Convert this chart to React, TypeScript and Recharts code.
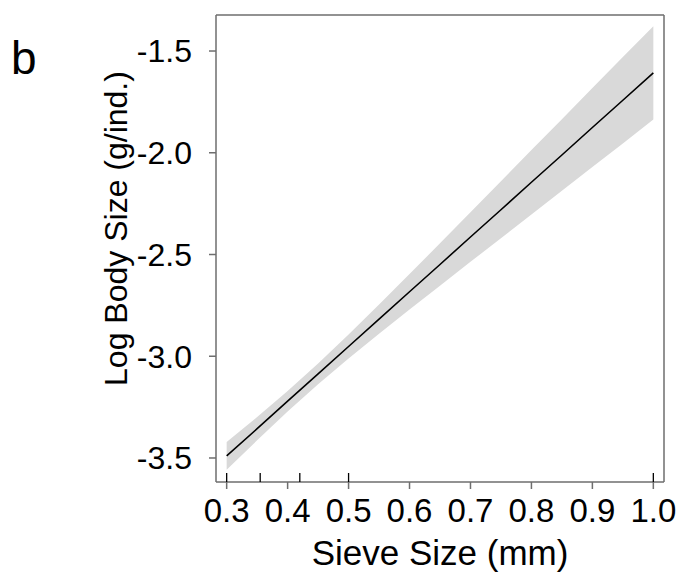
import React from 'react';
import { ComposedChart, Area, Line, Scatter, XAxis, YAxis } from 'recharts';

// fitted line with confidence band
const sieveSize = [0.3, 0.35, 0.4, 0.45, 0.5, 0.55, 0.6, 0.65, 0.7, 0.75, 0.8, 0.85, 0.9, 0.95, 1.0];
const fitted = [-3.49, -3.356, -3.221, -3.087, -2.952, -2.818, -2.683, -2.549, -2.414, -2.28, -2.145, -2.011, -1.876, -1.742, -1.607];
const lower = [-3.558, -3.413, -3.271, -3.138, -3.011, -2.89, -2.77, -2.653, -2.536, -2.42, -2.303, -2.187, -2.07, -1.954, -1.836];
const upper = [-3.422, -3.299, -3.171, -3.036, -2.893, -2.746, -2.596, -2.445, -2.292, -2.14, -1.987, -1.835, -1.682, -1.53, -1.378];

// rug of observed sieve sizes
const rugSizes = [0.3, 0.355, 0.42, 0.5, 1.0];

const xTicks = [0.3, 0.4, 0.5, 0.6, 0.7, 0.8, 0.9, 1.0];
const yTicks = [-3.5, -3.0, -2.5, -2.0, -1.5];
const xDomain = [0.2825, 1.0175];
const yDomain = [-3.618, -1.323];

const data = sieveSize.map((x, i) => ({ x, fit: fitted[i], band: [lower[i], upper[i]] }));
const rugData = rugSizes.map((x) => ({ x, y: yDomain[0] }));

const font = '"Liberation Sans", Arial, sans-serif';
const axisColor = '#6e6e6e';

const RugMark = (props: any) => {
  const { cx, cy } = props;
  return <line x1={cx} x2={cx} y1={cy} y2={cy - 9} stroke="#000" strokeWidth={1.3} />;
};

export default function App() {
  return (
    <div style={{ position: 'absolute', left: 0, top: 0, width: 681, height: 578, background: '#fff' }}>
      <div style={{ position: 'absolute', left: 11, top: 30, fontFamily: font, fontSize: 46, lineHeight: '56px', color: '#000' }}>b</div>
      <ComposedChart width={681} height={578} data={data} margin={{ top: 0, right: 0, bottom: 0, left: 0 }}>
        <XAxis
          xAxisId="bottom"
          dataKey="x"
          type="number"
          domain={xDomain}
          ticks={xTicks}
          tickFormatter={(v: number) => v.toFixed(1)}
          height={96}
          tickSize={7}
          tickMargin={10}
          stroke={axisColor}
          strokeWidth={1.5}
          tick={{ fill: '#000', fontSize: 33, fontFamily: font }}
          label={{
            content: (p: any) => (
              <text x={p.viewBox.x + p.viewBox.width / 2} y={565} textAnchor="middle" fontSize={35} fontFamily={font} fill="#000">
                Sieve Size (mm)
              </text>
            ),
          }}
        />
        <XAxis xAxisId="top" orientation="top" dataKey="x" type="number" domain={xDomain} ticks={xTicks} height={15} tickSize={7} tick={false} stroke={axisColor} strokeWidth={1.5} />
        <YAxis
          yAxisId="left"
          type="number"
          domain={yDomain}
          ticks={yTicks}
          tickFormatter={(v: number) => v.toFixed(1)}
          width={216}
          tickSize={7}
          tickMargin={17}
          stroke={axisColor}
          strokeWidth={1.5}
          tick={{ fill: '#000', fontSize: 32, fontFamily: font }}
          label={{
            content: (p: any) => {
              const cy = p.viewBox.y + p.viewBox.height / 2 - 20;
              return (
                <text x={127} y={cy} transform={`rotate(-90, 127, ${cy})`} textAnchor="middle" fontSize={32} fontFamily={font} fill="#000">
                  Log Body Size (g/ind.)
                </text>
              );
            },
          }}
        />
        <YAxis yAxisId="right" orientation="right" type="number" domain={yDomain} ticks={yTicks} width={17} tickSize={7} tick={false} stroke={axisColor} strokeWidth={1.5} />
        <Area xAxisId="bottom" yAxisId="left" dataKey="band" type="linear" fill="#d9d9d9" fillOpacity={1} stroke="none" isAnimationActive={false} />
        <Line xAxisId="bottom" yAxisId="left" dataKey="fit" type="linear" stroke="#000" strokeWidth={1.6} dot={false} isAnimationActive={false} />
        <Scatter xAxisId="bottom" yAxisId="left" data={rugData} dataKey="y" shape={<RugMark />} isAnimationActive={false} />
      </ComposedChart>
    </div>
  );
}
